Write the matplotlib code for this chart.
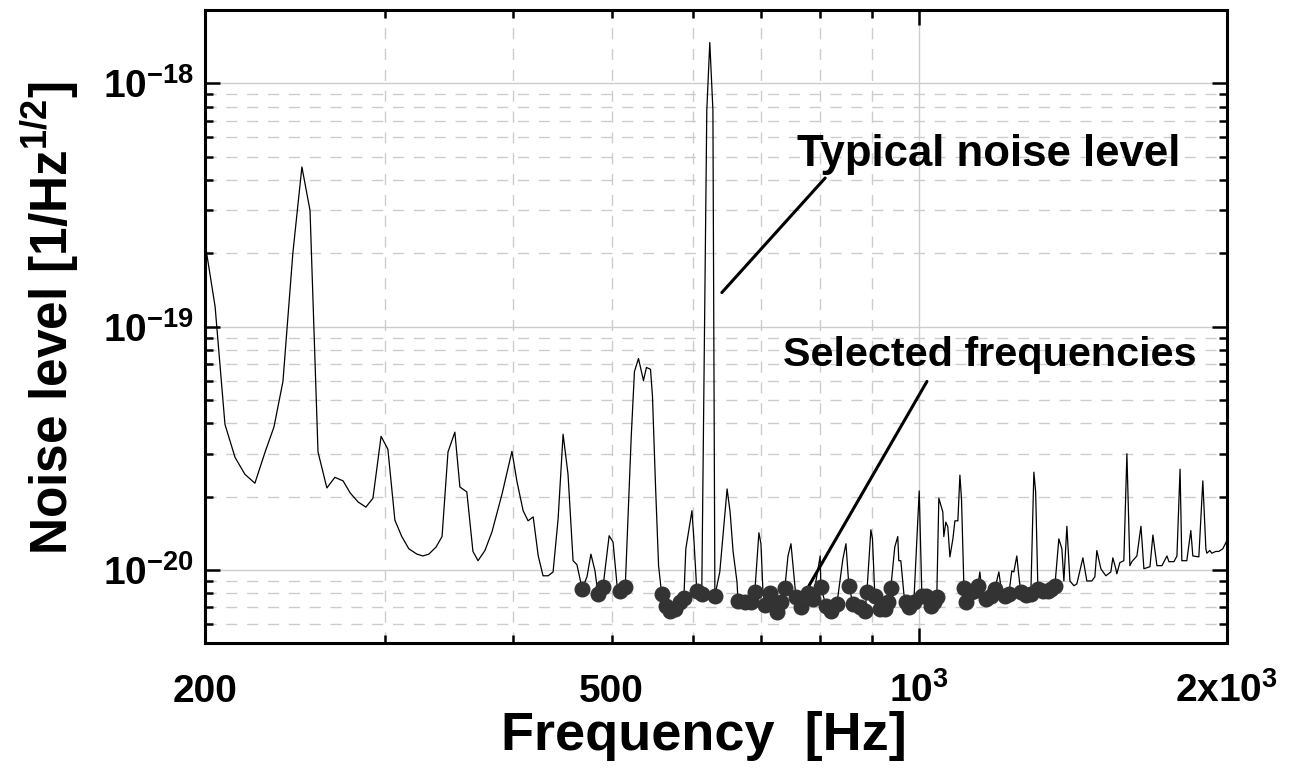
import matplotlib
matplotlib.use("Agg")
import matplotlib.pyplot as plt
from matplotlib.ticker import FixedLocator, LogLocator, NullFormatter
import numpy as np

plt.rcParams["font.family"] = ["Liberation Sans", "DejaVu Sans"]
plt.rcParams["font.weight"] = "bold"
plt.rcParams["mathtext.fontset"] = "custom"
for key in ("rm", "it", "bf", "sf"):
    plt.rcParams[f"mathtext.{key}"] = "Liberation Sans:bold"

# noise spectrum: (frequency [Hz], level [1e-21 / Hz^1/2])
noise_curve = [
    (200, 221), (204.6, 120.8), (209.2, 39.6), (214, 29.0), (218.8, 24.7),
    (223.8, 22.7), (229, 30.5), (233.6, 38.6), (238.4, 59.5), (243.8, 201),
    (248.8, 453), (253.4, 300), (258, 30.5), (263.2, 21.7), (268, 24.0),
    (273, 23.2), (277.4, 20.7), (282.4, 19.0), (287.4, 18.1), (292, 19.7),
    (297.4, 35.4), (302, 31.3), (306.8, 16.0), (311.6, 13.7), (316.6, 12.2),
    (322.4, 11.6), (326.8, 11.4), (331.2, 11.6), (336.6, 12.4), (341.2, 13.7),
    (345.8, 30.5), (351.2, 36.8), (355.2, 21.9), (360.8, 20.9), (365.8, 11.9),
    (370, 10.9), (375.8, 12.0), (381.8, 14.3), (390.6, 20.5), (399.4, 30.7),
    (404, 23.0), (409.6, 17.5), (414.2, 15.9), (419, 16.5), (423.8, 11.4),
    (428.4, 9.45), (433.4, 9.45), (438.2, 9.8), (443.2, 16.2), (448.2, 36.1),
    (453.2, 24.7), (458.4, 10.9), (462.4, 10.5), (467.8, 8.36), (473, 9.36),
    (477.2, 11.6), (481.6, 9.9), (484.8, 7.97), (490.4, 8.52), (497.2, 13.8),
    (501.6, 13.0), (506.2, 8.6), (509.8, 8.2), (515.6, 8.52), (522.6, 35.4),
    (526.4, 65.4), (531.2, 73.9), (537.2, 60), (540.8, 67.9), (545.8, 66.7),
    (548.2, 51.7), (552, 22.1), (555.8, 10.4), (559.6, 7.97), (564.8, 7.12),
    (570, 6.79), (576.8, 6.92), (583.2, 7.40), (588.4, 7.68), (591, 12.2),
    (599.2, 17.5), (601.8, 13.4), (605.8, 8.2), (612.6, 7.97), (619.6, 775),
    (623.8, 1472), (628.2, 775), (631, 7.82), (638, 9.8), (648.6, 21.5),
    (653, 17.3), (657.4, 11.9), (663.2, 8.93), (664.8, 7.46), (675.2, 7.40),
    (684.2, 7.40), (690.4, 8.13), (696.8, 14.2), (700, 12.8), (703.2, 8.13),
    (706.4, 7.19), (714.2, 8.05), (719.2, 7.40), (725.6, 6.73), (732.2, 7.40),
    (738.8, 8.44), (744, 11.4), (749, 12.8), (757.4, 7.75), (766, 7.05),
    (778, 8.05), (787, 7.60), (800, 11.4), (801.2, 8.52), (810.4, 7.12),
    (819.6, 6.79), (830.8, 7.26), (842, 11.1), (847.8, 12.8), (853.4, 8.6),
    (861.2, 7.26), (875, 7.05), (884.8, 6.79), (888.8, 8.13), (896.8, 14.6),
    (900, 13.4), (904.8, 7.82), (915.2, 6.92), (925.6, 6.92), (931.8, 7.40),
    (938, 8.44), (946.4, 12.4), (952.8, 13.7), (955, 10.9), (959.4, 10.9),
    (966, 7.97), (970.4, 7.40), (977, 7.05), (988, 7.40), (1000, 21.1),
    (1006, 7.82), (1015, 7.82), (1026.6, 7.12), (1033.6, 7.40), (1040.4, 7.75),
    (1045.2, 19.7), (1054.6, 17.3), (1057, 13.7), (1061.8, 15.7), (1066.6, 15.0),
    (1071.6, 11.3), (1078.8, 13.4), (1083.8, 15.9), (1091, 15.9), (1096, 24.5),
    (1100, 19.5), (1106, 8.44), (1110.8, 7.40), (1123.4, 8.13), (1131, 8.2),
    (1141.4, 8.6), (1146.4, 9.8), (1151.6, 8.2), (1162, 7.60), (1175, 7.82),
    (1185.8, 8.36), (1196.6, 9.8), (1202, 8.52), (1212.8, 7.82), (1223.8, 7.97),
    (1232, 9.9), (1237.6, 9.8), (1246, 11.4), (1251.6, 9.45), (1257.2, 8.13),
    (1271.4, 7.9), (1286, 7.97), (1294.8, 25.2), (1300, 20.9), (1306.6, 8.36),
    (1321.4, 8.2), (1336.4, 8.2), (1345.4, 8.36), (1357.6, 8.6), (1369.8, 13.4),
    (1379.2, 12.2), (1385.4, 9.0), (1394.8, 15.1), (1404.4, 9.0), (1417, 8.6),
    (1426.6, 8.76), (1446, 11.2), (1459, 9.0), (1475.6, 9.0), (1485.6, 9.36),
    (1492.2, 12.0), (1505.8, 10.1), (1522.8, 9.45), (1540, 9.8), (1547, 11.2),
    (1557.4, 10.1), (1561, 9.63), (1571.6, 10.7), (1585.8, 10.9), (1596.8, 30),
    (1607.6, 10.4), (1614.8, 10.8), (1633.2, 11.4), (1648.2, 15.1), (1659.2, 10.1),
    (1682, 10.3), (1693.2, 13.9), (1708.6, 10.4), (1728, 10.4), (1747.6, 11.4),
    (1755.4, 10.8), (1775.4, 10.8), (1787.4, 11.4), (1800, 25.9), (1807.2, 10.9),
    (1827.6, 10.9), (1844.2, 14.5), (1852.6, 11.4), (1877.8, 11.3), (1894.8, 23.2),
    (1907.8, 12.2), (1912, 11.7), (1925, 12.0), (1933.6, 11.7), (1951, 11.9),
    (1964.4, 11.9), (1982, 12.2), (1997, 13.0),
]

# selected frequencies (markers)
selected = [
    (467.8, 8.36), (484.8, 7.97), (490.4, 8.52), (509.8, 8.2), (515.6, 8.52),
    (559.6, 7.97), (564.8, 7.12), (570, 6.79), (576.8, 6.92), (583.2, 7.40),
    (588.4, 7.68), (605.8, 8.2), (612.6, 7.97), (631, 7.82), (664.8, 7.46),
    (675.2, 7.40), (684.2, 7.40), (690.4, 8.13), (706.4, 7.19), (714.2, 8.05),
    (719.2, 7.40), (725.6, 6.73), (732.2, 7.40), (738.8, 8.44), (757.4, 7.75),
    (766, 7.05), (778, 8.05), (787, 7.60), (801.2, 8.52), (810.4, 7.12),
    (819.6, 6.79), (830.8, 7.26), (853.4, 8.6), (861.2, 7.26), (875, 7.05),
    (884.8, 6.79), (888.8, 8.13), (904.8, 7.82), (915.2, 6.92), (925.6, 6.92),
    (931.8, 7.40), (938, 8.44), (970.4, 7.40), (977, 7.05), (988, 7.40),
    (1006, 7.82), (1015, 7.82), (1026.6, 7.12), (1033.6, 7.40), (1040.4, 7.75),
    (1106, 8.44), (1110.8, 7.40), (1123.4, 8.13), (1131, 8.2), (1141.4, 8.6),
    (1162, 7.60), (1175, 7.82), (1185.8, 8.36), (1212.8, 7.82), (1223.8, 7.97),
    (1257.2, 8.13), (1271.4, 7.9), (1286, 7.97), (1306.6, 8.36), (1321.4, 8.2),
    (1336.4, 8.2), (1345.4, 8.36), (1357.6, 8.6),
]

x_labels = [(200, "200"), (500, "500"), (1000, r"$10^{3}$"), (2000, r"$2x10^{3}$")]
y_labels = [(1e-20, r"$10^{-20}$"), (1e-19, r"$10^{-19}$"), (1e-18, r"$10^{-18}$")]

freq = np.array([p[0] for p in noise_curve])
level = np.array([p[1] for p in noise_curve]) * 1e-21
sel_freq = np.array([p[0] for p in selected])
sel_level = np.array([p[1] for p in selected]) * 1e-21

fig = plt.figure(figsize=(13, 7.7), dpi=100)
ax = fig.add_axes([0.1577, 0.1649, 0.786, 0.822])
ax.set_xscale("log")
ax.set_yscale("log")
ax.set_xlim(200, 2000)
ax.set_ylim(5e-21, 2e-18)

ax.plot(freq, level, color="black", lw=0.9, zorder=3)
ax.plot(sel_freq, sel_level, "o", color="#333333", ms=10.5, mec="#333333", zorder=4)

# ticks
ax.xaxis.set_major_locator(FixedLocator([200, 1000, 2000]))
ax.xaxis.set_minor_locator(FixedLocator([300, 400, 500, 600, 700, 800, 900]))
ax.xaxis.set_major_formatter(NullFormatter())
ax.xaxis.set_minor_formatter(NullFormatter())
ax.set_yticks([v for v, _ in y_labels], labels=[t for _, t in y_labels])
ax.yaxis.set_minor_locator(LogLocator(base=10, subs=np.arange(2, 10)))
ax.yaxis.set_minor_formatter(NullFormatter())

ax.tick_params(which="both", direction="in", top=True, right=True, width=1.8)
ax.tick_params(which="major", length=10.5, labelsize=28, pad=8)
ax.tick_params(which="minor", length=5.5)

for x, txt in x_labels:
    ax.text(x, -0.093, txt, transform=ax.get_xaxis_transform(), ha="center",
            va="baseline", fontsize=28, fontweight="bold")

for s in ax.spines.values():
    s.set_linewidth(2.2)

# grid
ax.grid(which="major", color="#cccccc", lw=1.0, ls="-", zorder=0)
ax.grid(which="minor", color="#cccccc", lw=1.0, ls=(0, (8, 7)), zorder=0)
ax.set_axisbelow(True)

ax.set_xlabel("Frequency  [Hz]", fontsize=39, fontweight="bold")
ax.xaxis.set_label_coords(0.488, -0.108)
ax.set_ylabel(r"Noise level [1/Hz$^{1/2}$]", fontsize=37, fontweight="bold")
ax.yaxis.set_label_coords(-0.121, 0.513)

# annotations
ax.annotate("", xy=(641, 1.38e-19), xytext=(809, 4.08e-19),
            arrowprops=dict(arrowstyle="-", lw=2.2, color="black", shrinkA=0, shrinkB=0))
ax.text(759, 4.57e-19, "Typical noise level", fontsize=31.5, fontweight="bold",
        ha="left", va="baseline")
ax.annotate("", xy=(780, 8.6e-21), xytext=(1017.6, 5.95e-20),
            arrowprops=dict(arrowstyle="-", lw=2.2, color="black", shrinkA=0, shrinkB=0))
ax.text(735.6, 6.86e-20, "Selected frequencies", fontsize=29.8, fontweight="bold",
        ha="left", va="baseline")

fig.savefig("out.png", dpi=100)
